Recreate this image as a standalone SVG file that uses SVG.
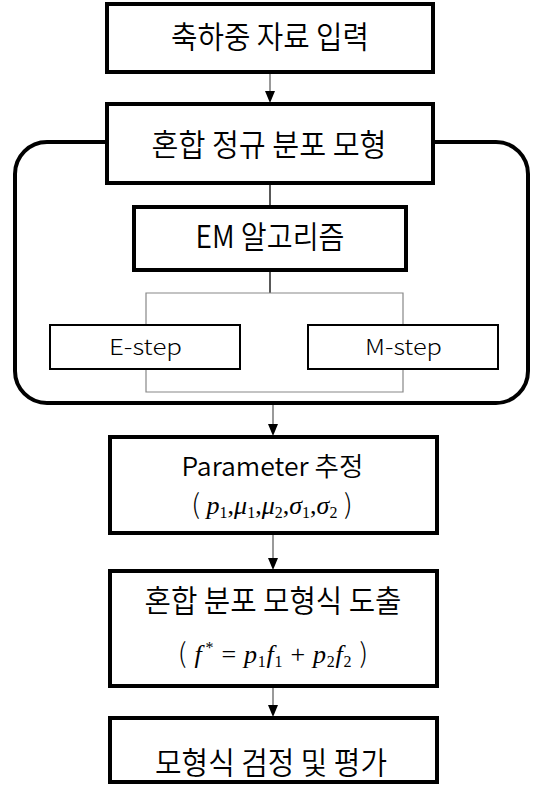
<svg xmlns="http://www.w3.org/2000/svg" width="535" height="787" viewBox="0 0 535 787">
<style>
.box{fill:#fff;stroke:#000;stroke-width:4;stroke-linejoin:miter}
.sbox{fill:#fff;stroke:#000;stroke-width:2}
.kt{font-family:"Noto Sans CJK KR","Noto Sans",sans-serif;font-size:31px;font-weight:350;fill:#000;text-anchor:middle}
.st{font-family:"Noto Sans CJK KR","Noto Sans",sans-serif;font-size:22px;font-weight:300;fill:#000;text-anchor:middle}
.m{font-family:"Liberation Serif",serif;font-size:26px;fill:#000;text-anchor:middle}
.i{font-style:italic}
.sub{font-size:16px}
.par{font-family:"Noto Sans CJK KR",sans-serif;font-size:27px;font-weight:300}
.ln{stroke:#555;stroke-width:1.2;fill:none}
.lnk{stroke:#222;stroke-width:1.5;fill:none}
.br{stroke:#888;stroke-width:1.2;fill:none}
.ah{fill:#000}
</style>
<g id="group-mixture">
<rect x="15" y="142" width="513" height="261" rx="32" ry="32" fill="none" stroke="#000" stroke-width="4"/>
</g>
<g id="connectors">
<line class="ln" x1="270" y1="73" x2="270" y2="92"/>
<path class="ah" d="M265,91 L275,91 L270,103 Z"/>
<line class="lnk" x1="270" y1="183" x2="270" y2="207"/>
<line class="lnk" x1="270" y1="270" x2="270" y2="293"/>
<polyline class="br" points="146,325 146,293 403,293 403,325"/>
<polyline class="br" points="146,369 146,392 403,392 403,369"/>
<line class="ln" x1="273" y1="405" x2="273" y2="425"/>
<path class="ah" d="M268,424 L278,424 L273,436 Z"/>
<line class="ln" x1="273" y1="533" x2="273" y2="558"/>
<path class="ah" d="M268,558 L278,558 L273,570 Z"/>
<line class="ln" x1="273" y1="686" x2="273" y2="705"/>
<path class="ah" d="M268,705 L278,705 L273,717 Z"/>
</g>
<g id="node-input">
<rect class="box" x="107" y="4" width="326" height="68"/>
<text class="kt" x="270" y="48" textLength="198" lengthAdjust="spacingAndGlyphs">축하중 자료 입력</text>
</g>
<g id="node-gmm">
<rect class="box" x="107" y="104" width="326" height="79"/>
<text class="kt" x="269" y="156" textLength="235" lengthAdjust="spacingAndGlyphs">혼합 정규 분포 모형</text>
</g>
<g id="node-em">
<rect class="box" x="134" y="207" width="272" height="63"/>
<text class="kt" x="270" y="248" textLength="149" lengthAdjust="spacingAndGlyphs">EM 알고리즘</text>
</g>
<g id="node-estep">
<rect class="sbox" x="50" y="325" width="190" height="44"/>
<text class="st" x="145.5" y="355" textLength="73" lengthAdjust="spacingAndGlyphs">E-step</text>
</g>
<g id="node-mstep">
<rect class="sbox" x="308" y="325" width="190" height="44"/>
<text class="st" x="403.5" y="355" textLength="77" lengthAdjust="spacingAndGlyphs">M-step</text>
</g>
<g id="node-param">
<rect class="box" x="110" y="437" width="327" height="96"/>
<text class="kt" x="272.5" y="476" textLength="182" lengthAdjust="spacingAndGlyphs" style="font-size:26px">Parameter 추정</text>
<text class="m" x="272" y="514"><tspan class="par">(</tspan> <tspan class="i">p</tspan><tspan class="sub" dy="4">1</tspan><tspan dy="-4">,</tspan><tspan class="i">μ</tspan><tspan class="sub" dy="4">1</tspan><tspan dy="-4">,</tspan><tspan class="i">μ</tspan><tspan class="sub" dy="4">2</tspan><tspan dy="-4">,</tspan><tspan class="i">σ</tspan><tspan class="sub" dy="4">1</tspan><tspan dy="-4">,</tspan><tspan class="i">σ</tspan><tspan class="sub" dy="4">2</tspan><tspan dy="-4"> </tspan><tspan class="par">)</tspan></text>
</g>
<g id="node-derive">
<rect class="box" x="110" y="571" width="327" height="115"/>
<text class="kt" x="273" y="612" textLength="257" lengthAdjust="spacingAndGlyphs">혼합 분포 모형식 도출</text>
<text class="m" x="273" y="663" textLength="190" lengthAdjust="spacing"><tspan class="par">(</tspan>  <tspan class="i">f</tspan><tspan class="sub" dx="3" dy="-10">*</tspan><tspan dy="10"> = </tspan><tspan class="i">p</tspan><tspan class="sub" dy="4">1</tspan><tspan class="i" dy="-4">f</tspan><tspan class="sub" dy="4">1</tspan><tspan dy="-4"> + </tspan><tspan class="i">p</tspan><tspan class="sub" dy="4">2</tspan><tspan class="i" dy="-4">f</tspan><tspan class="sub" dy="4">2</tspan><tspan dy="-4">  </tspan><tspan class="par">)</tspan></text>
</g>
<g id="node-eval">
<rect class="box" x="110" y="718" width="327" height="64"/>
<text class="kt" x="271" y="774" textLength="232" lengthAdjust="spacingAndGlyphs">모형식 검정 및 평가</text>
</g>
</svg>
